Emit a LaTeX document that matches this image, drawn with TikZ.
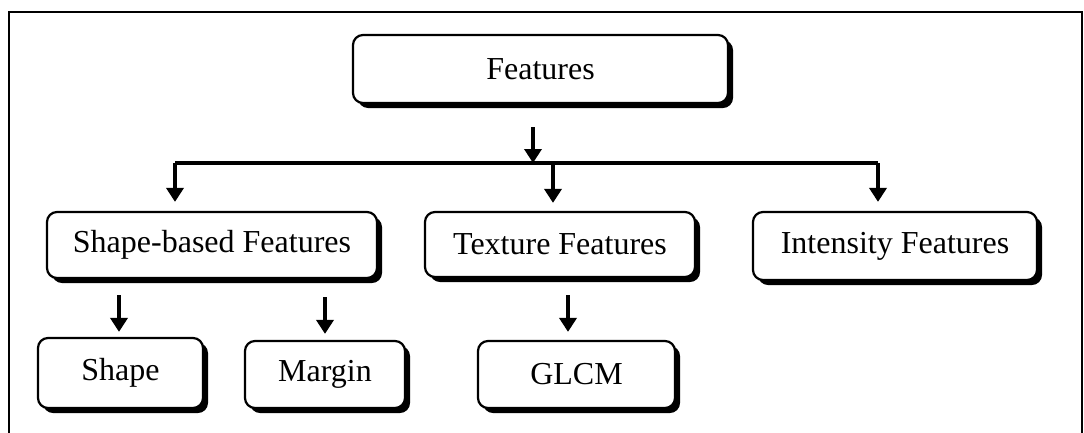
\documentclass[tikz,border=0pt]{standalone}
\usepackage{fontspec}
\setmainfont{Liberation Serif}
\usetikzlibrary{arrows.meta,shadows}
\begin{document}
\begin{tikzpicture}[x=1pt,y=-1pt,
  box/.style={draw=black, line width=2.2pt, rounded corners=10pt, fill=white,
    inner sep=0pt, font=\fontsize{32}{38}\selectfont,
    drop shadow={shadow xshift=5pt, shadow yshift=-5pt, opacity=1, fill=black}},
  arr/.style={line width=3.5pt, -{Triangle[length=14pt,width=17pt]}},
  busline/.style={line width=3.5pt},
  frame/.style={line width=2.5pt}]
\useasboundingbox (0,0) rectangle (1084,432);
% outer frame (open at the bottom)
\coordinate (fbl) at (9,440);
\coordinate (ftl) at (9,12);
\coordinate (ftr) at (1082,12);
\coordinate (fbr) at (1082,440);
\draw[frame] (fbl) -- (ftl) -- (ftr) -- (fbr);
% nodes
\node[box, minimum width=375pt, minimum height=68pt] (feat) at (540.5,69) {Features};
\node[box, minimum width=330pt, minimum height=66pt] (sb) at (212,245) {Shape-based Features};
\node[box, minimum width=270pt, minimum height=65pt] (tex) at (560,244.5) {Texture Features};
\node[box, minimum width=284pt, minimum height=68pt] (int) at (895,246) {Intensity Features};
\node[box, minimum width=165pt, minimum height=70pt] (shape) at (120.5,373) {Shape};
\node[box, minimum width=160pt, minimum height=67pt] (marg) at (325,374.5) {Margin};
\node[box, minimum width=197pt, minimum height=67pt] (glcm) at (576.5,374.5) {GLCM};
% connectors
\coordinate (fa) at (533,127);
\coordinate (bc) at (533,163);
\coordinate (bl) at (175,163);
\coordinate (bm) at (553,163);
\coordinate (br) at (878,163);
\draw[arr] (fa) -- (bc);
\draw[busline] (bl) -- (br);
\draw[arr, shorten >=9pt] (bl) -- (bl |- sb.north);
\draw[arr, shorten >=8pt] (bm) -- (bm |- tex.north);
\draw[arr, shorten >=9pt] (br) -- (br |- int.north);
\coordinate (s1) at (119,295);
\coordinate (s2) at (325,297);
\coordinate (s3) at (568,295);
\draw[arr, shorten >=5pt] (s1) -- (s1 |- shape.north);
\draw[arr, shorten >=6pt] (s2) -- (s2 |- marg.north);
\draw[arr, shorten >=8pt] (s3) -- (s3 |- glcm.north);
\end{tikzpicture}
\end{document}
